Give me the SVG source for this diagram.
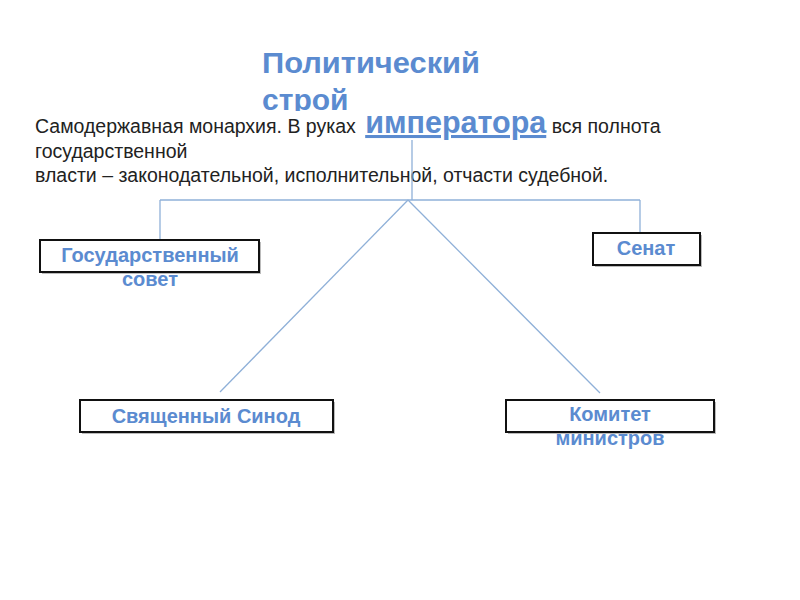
<svg xmlns="http://www.w3.org/2000/svg" width="800" height="600" viewBox="0 0 800 600">
<style>
.t{font-family:"Liberation Sans",Arial,sans-serif;}
.lbl{font-family:"Liberation Sans",Arial,sans-serif;font-weight:bold;font-size:20px;fill:#5b8bd0;text-anchor:middle;}
.box{fill:#fff;stroke:#111;stroke-width:2;}
.sh{fill:#bbb;}
.ln{stroke:#8fb0d8;stroke-width:1.3;fill:none;}
</style>
<rect width="800" height="600" fill="#fff"/>
<g id="title">
<text class="t" x="262" y="73" font-size="30" font-weight="bold" fill="#5b8bd0" textLength="218" lengthAdjust="spacingAndGlyphs">Политический</text>
<text class="t" x="262" y="110" font-size="30" font-weight="bold" fill="#5b8bd0">строй</text>
</g>
<g id="emperor">
<rect x="30" y="111" width="660" height="80" fill="#fff"/>
<text class="t" x="35" y="133" font-size="19.5" fill="#222">Самодержавная монархия. В руках <tspan dx="4" font-size="30.5" font-weight="bold" fill="#5b8bd0" text-decoration="underline">императора</tspan> вся полнота</text>
<text class="t" x="35" y="158" font-size="19.5" fill="#222">государственной</text>
<text class="t" x="35" y="182" font-size="19.5" fill="#222">власти – законодательной, исполнительной, отчасти судебной.</text>
</g>
<g id="connectors">
<line class="ln" x1="412" y1="140" x2="412" y2="200"/>
<line class="ln" x1="160" y1="200" x2="640" y2="200"/>
<line class="ln" x1="160" y1="200" x2="160" y2="240"/>
<line class="ln" x1="640" y1="200" x2="640" y2="233"/>
<line class="ln" x1="408" y1="200" x2="220" y2="392"/>
<line class="ln" x1="408" y1="200" x2="600" y2="393"/>
</g>
<g id="gossovet">
<rect class="sh" x="42" y="242" width="219" height="32"/>
<rect class="box" x="40" y="240" width="219" height="32"/>
<text class="lbl" x="150" y="262">Государственный</text>
<text class="lbl" x="150" y="286">совет</text>
</g>
<g id="senat">
<rect class="sh" x="595" y="235" width="107" height="32"/>
<rect class="box" x="593" y="233" width="107" height="32"/>
<text class="lbl" x="646" y="255">Сенат</text>
</g>
<g id="sinod">
<rect class="sh" x="82" y="402" width="253" height="32"/>
<rect class="box" x="80" y="400" width="253" height="32"/>
<text class="lbl" x="206" y="423">Священный Синод</text>
</g>
<g id="komitet">
<rect class="sh" x="508" y="402" width="208" height="32"/>
<rect class="box" x="506" y="400" width="208" height="32"/>
<text class="lbl" x="610" y="421">Комитет</text>
<text class="lbl" x="610" y="445">министров</text>
</g>
</svg>
